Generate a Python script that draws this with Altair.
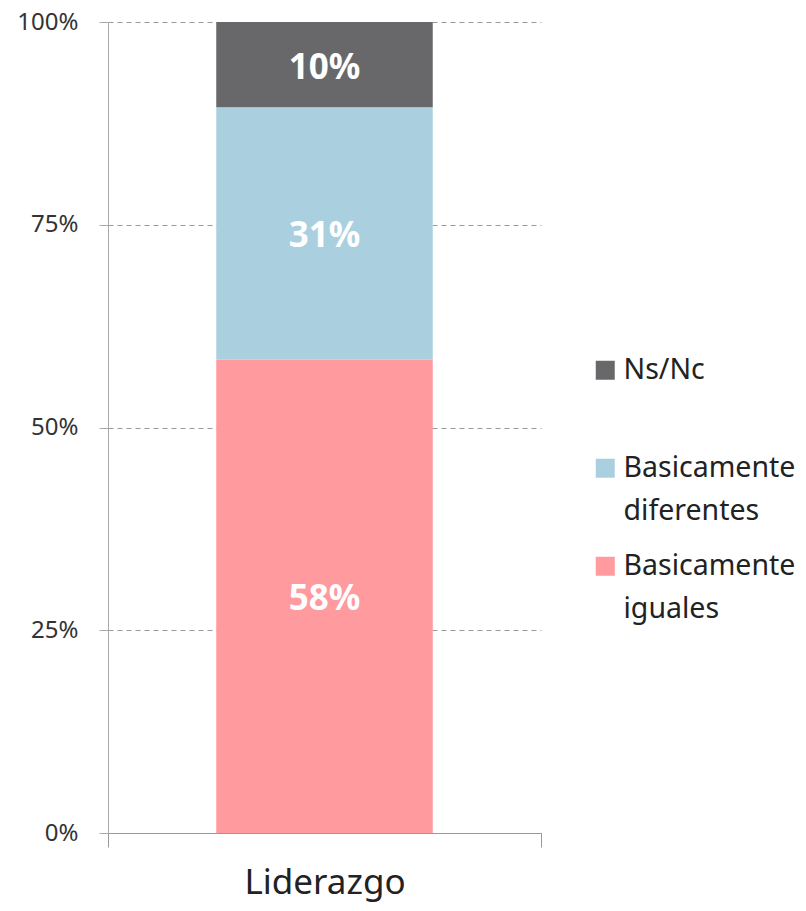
import altair as alt
import pandas as pd

categories = ["Liderazgo", "Liderazgo", "Liderazgo"]
series = ["Basicamente iguales", "Basicamente diferentes", "Ns/Nc"]
values = [58.4, 31.1, 10.5]
labels = ["58%", "31%", "10%"]
stack_order = [1, 2, 3]
legend_order = ["Ns/Nc", "Basicamente diferentes", "Basicamente iguales"]
legend_colors = ["#68686b", "#aad0df", "#ff9a9e"]
y_ticks = [0, 25, 50, 75, 100]

FONT = "Noto Sans"

df = pd.DataFrame({
    "cat": categories,
    "serie": series,
    "value": values,
    "label": labels,
    "ord": stack_order,
})

base = alt.Chart(df).transform_stack(
    stack="value",
    groupby=["cat"],
    as_=["y0", "y1"],
    sort=[alt.SortField("ord", order="ascending")],
).transform_calculate(
    mid="(datum.y0 + datum.y1) / 2"
)

x_enc = alt.X(
    "cat:N",
    scale=alt.Scale(paddingInner=0, paddingOuter=0),
    axis=alt.Axis(
        title=None, labelAngle=0, labelFontSize=35, labelFont=FONT,
        labelColor="#222222", tickBand="extent", tickSize=14,
        tickColor="#999999", domainColor="#999999", labelPadding=18,
    ),
)

y_scale = alt.Scale(domain=[0, 100], nice=False)

bars = base.mark_bar(width=alt.RelativeBandSize(0.5)).encode(
    x=x_enc,
    y=alt.Y(
        "y0:Q", scale=y_scale,
        axis=alt.Axis(
            title=None, values=y_ticks, labelExpr="datum.value + '%'",
            labelFontSize=24, labelFont=FONT, labelColor="#333333",
            labelLineHeight=24,
            tickSize=9, tickColor="#aaaaaa", domainColor="#aaaaaa",
            grid=True, gridDash=[5, 4], gridColor="#999999", labelPadding=21,
        ),
    ),
    y2="y1:Q",
    color=alt.Color(
        "serie:N",
        scale=alt.Scale(domain=legend_order, range=legend_colors),
        legend=alt.Legend(
            title=None, orient="none", legendX=483, legendY=334,
            symbolType="square", symbolSize=361, symbolStrokeWidth=0,
            labelFontSize=28.5, labelFont=FONT, labelColor="#222222",
            labelOffset=4, rowPadding=26, padding=0,
            labelExpr="datum.label == 'Ns/Nc' ? [datum.label, ''] : [slice(datum.label, 0, 11), slice(datum.label, 12)]",
            labelLimit=300,
        ),
    ),
)

text = base.mark_text(
    color="white", fontWeight="bold", fontSize=35, font=FONT, baseline="middle", dy=3
).encode(
    x=alt.X("cat:N"),
    y=alt.Y("mid:Q", scale=y_scale),
    text="label:N",
)

chart = alt.layer(bars, text).properties(
    width=433, height=811,
    autosize=alt.AutoSizeParams(type="none"),
    padding={"left": 100, "top": 14, "right": 257, "bottom": 70},
).configure(
    style={"guide-label": {"lineHeight": 43}}
).configure_view(stroke=None)

chart.save("out.html", embed_options={"renderer": "svg", "actions": False})
